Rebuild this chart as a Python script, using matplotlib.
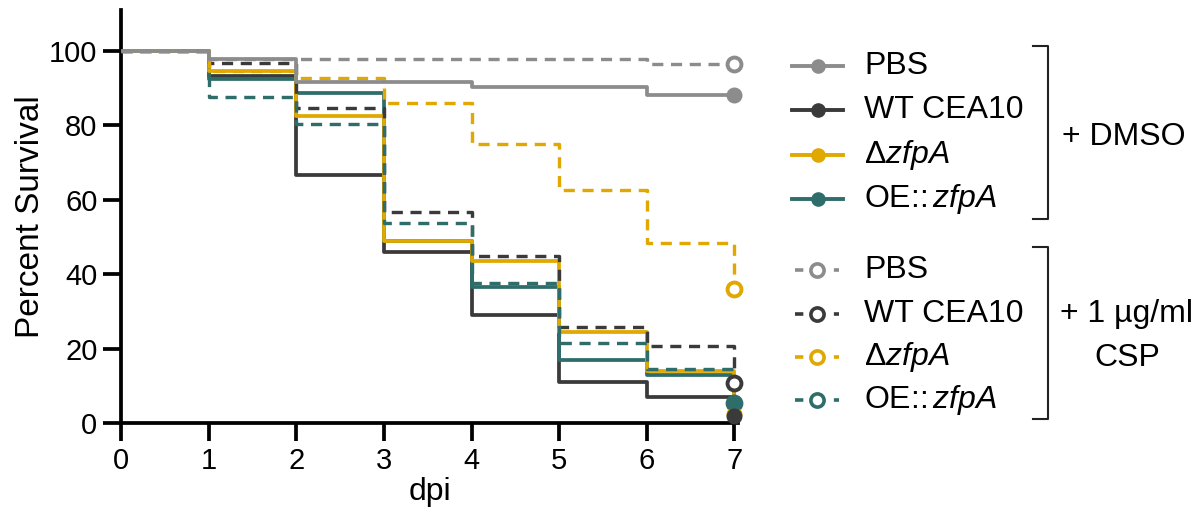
import matplotlib
matplotlib.use("Agg")
import matplotlib.pyplot as plt
from matplotlib.lines import Line2D

plt.rcParams['font.family'] = ['Liberation Sans', 'DejaVu Sans']
plt.rcParams['mathtext.fontset'] = 'custom'
plt.rcParams['mathtext.rm'] = 'Liberation Sans'
plt.rcParams['mathtext.it'] = 'Liberation Sans:italic'
plt.rcParams['lines.scale_dashes'] = False

# survival (%) at each day, step after the day; last value = end of follow-up
days = [0, 1, 2, 3, 4, 5, 6, 7]

pbs_dmso = [100, 97.8, 91.7, 91.7, 90.2, 90.2, 88.2, 88.2]
wt_dmso = [100, 93.2, 66.7, 46.0, 29.0, 11.0, 7.1, 2.0]
dzfpa_dmso = [100, 94.6, 82.5, 48.9, 43.6, 24.5, 14.1, 2.5]
oe_dmso = [100, 92.4, 88.8, 48.9, 36.6, 17.0, 12.9, 5.4]

pbs_csp = [100, 97.9, 97.9, 97.9, 97.9, 97.9, 96.4, 96.4]
wt_csp = [100, 96.8, 84.6, 56.8, 44.9, 25.9, 20.8, 10.7]
dzfpa_csp = [100, 94.6, 92.8, 85.9, 75.0, 62.6, 48.3, 35.9]
oe_csp = [100, 87.7, 80.4, 53.7, 37.5, 21.4, 14.4, 5.4]

labels = ['PBS', 'WT CEA10', 'Δ$\\mathit{zfpA}$', 'OE::$\\,\\mathit{zfpA}$']
colors = ['#8c8c8c', '#3a3a3a', '#e0a800', '#2f6d6b']
dmso = [pbs_dmso, wt_dmso, dzfpa_dmso, oe_dmso]
csp = [pbs_csp, wt_csp, dzfpa_csp, oe_csp]

fig = plt.figure(figsize=(12, 5.16), dpi=100)
ax = fig.add_axes([121 / 1200, 1 - 423 / 516, 617 / 1200, 413 / 516])

lw = 2.7
dash = (8, 5.5)
draw_order = [1, 3, 2]
for i in draw_order:
    ax.step(days, dmso[i], where='post', color=colors[i], lw=lw, zorder=2)
for i in draw_order + [0]:
    ax.step(days, csp[i], where='post', color=colors[i], lw=lw * 0.9,
            dashes=dash, zorder=3)
ax.step(days, dmso[0], where='post', color=colors[0], lw=lw, zorder=3.5)

for i in [0, 2, 3, 1]:
    ax.plot(days[-1], csp[i][-1], 'o', ms=10, mfc='white', mec=colors[i],
            mew=2.8, clip_on=False, zorder=4)
for i in [0, 2, 3, 1]:
    ax.plot(days[-1], dmso[i][-1], 'o', ms=10.5, color=colors[i],
            clip_on=False, zorder=5)

ax.set_xlim(0, 7.04)
ax.set_ylim(0, 111)
ax.set_xticks(range(0, 8))
ax.set_yticks(range(0, 101, 20))
for s in ['top', 'right']:
    ax.spines[s].set_visible(False)
for s in ['left', 'bottom']:
    ax.spines[s].set_linewidth(2.7)
ax.tick_params(length=13, width=2.7, labelsize=21, pad=4, colors='black')
ax.set_xlabel('dpi', fontsize=23, labelpad=2)
ax.set_ylabel('Percent Survival', fontsize=24, labelpad=2)


# legend, drawn in pixel positions
def fx(px):
    return px / 1200


def fy(py):
    return 1 - py / 516


rows_dmso = [66, 110, 155, 199]
rows_csp = [270, 314, 357, 400]
for i in range(4):
    y = rows_dmso[i]
    fig.add_artist(Line2D([fx(792), fx(843)], [fy(y), fy(y)], color=colors[i], lw=2.8))
    fig.add_artist(Line2D([fx(818)], [fy(y)], marker='o', ms=9.5, color=colors[i]))
    fig.text(fx(864), fy(y), labels[i], fontsize=23, va='center', ha='left')
    y = rows_csp[i]
    fig.add_artist(Line2D([fx(795), fx(839)], [fy(y), fy(y)], color=colors[i], lw=2.6,
                          dashes=(6, 8)))
    fig.add_artist(Line2D([fx(817)], [fy(y)], marker='o', ms=9.5, mfc='white',
                          mec=colors[i], mew=2.6))
    fig.text(fx(864), fy(y), labels[i], fontsize=23, va='center', ha='left')

for top, bot in [(46, 219), (247, 419)]:
    fig.add_artist(Line2D([fx(1033), fx(1048), fx(1048), fx(1033)],
                          [fy(top), fy(top), fy(bot), fy(bot)], color='#222222', lw=1.5))

fig.text(fx(1062), fy(137), '+ DMSO', fontsize=23, va='center', ha='left')
fig.text(fx(1127), fy(314), '+ 1 µg/ml', fontsize=23, va='center', ha='center')
fig.text(fx(1127), fy(358), 'CSP', fontsize=23, va='center', ha='center')

fig.savefig('out.png', dpi=100)
